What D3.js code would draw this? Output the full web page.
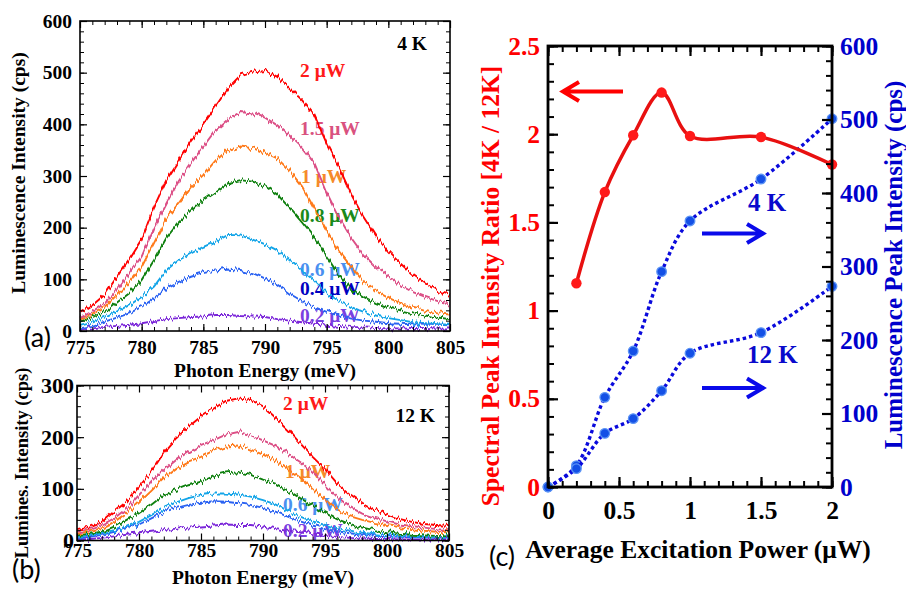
<!DOCTYPE html>
<html>
<head>
<meta charset="utf-8">
<script src="https://cdn.jsdelivr.net/npm/d3@7"></script>
<style>
  body { margin: 0; background: #fff; }
  svg { display: block; }
</style>
</head>
<body>
<svg id="chart" width="906" height="589"></svg>
<script>
// photon energy grid (meV), one reading per meV
var energy = [775,776,777,778,779,780,781,782,783,784,785,786,787,788,789,790,
              791,792,793,794,795,796,797,798,799,800,801,802,803,804,805];
var energyTicks = [775,780,785,790,795,800,805];

var powerLabels = ['2 μW','1.5 μW','1 μW','0.8 μW','0.6 μW','0.4 μW','0.2 μW'];

// (a) 4 K spectra, cps
var spec4K_2   = [35,50,70,105,140,178,240,292,330,368,400,435,470,495,502,505,492,470,447,418,363,317,264,220,183,154,130,109,92,77,70];
var spec4K_15  = [25,38,53,80,112,144,200,247,290,325,357,389,410,424,421,413,398,378,355,325,268,220,180,147,124,106,88,75,66,58,53];
var spec4K_1   = [22,32,47,70,95,124,170,218,247,279,302,330,350,357,354,345,334,310,280,237,195,154,124,95,77,64,54,47,41,36,34];
var spec4K_08  = [18,27,37,55,73,99,137,180,210,232,254,270,286,292,289,280,264,238,210,180,144,108,81,66,54,46,40,34,30,26,23];
var spec4K_06  = [12,18,28,38,50,66,86,118,137,150,163,173,186,185,177,168,156,137,117,97,73,58,46,37,30,25,21,17,15,13,12];
var spec4K_04  = [5,10,18,26,34,47,63,84,95,105,112,117,121,118,112,102,90,72,58,46,37,30,24,20,18,15,14,13,12,12,11];
var spec4K_02  = [3,5,8,10,12,15,19,23,25,27,28,31,31,29,28,27,23,20,17,14,12,10,8,7,6,5,5,4,4,3,3];
var cpsTicks4K = [0,100,200,300,400,500,600];

// (b) 12 K spectra, cps
var spec12K_2  = [22,27,36,56,75,104,133,170,198,220,240,255,270,275,272,260,238,215,188,162,138,110,90,73,60,50,42,36,32,30,28];
var spec12K_15 = [17,22,30,43,62,88,115,136,156,172,185,194,205,210,204,194,183,168,152,133,108,84,65,52,44,37,31,28,25,22,20];
var spec12K_1  = [13,18,24,36,53,75,98,122,140,153,162,174,182,184,176,166,155,138,122,101,79,60,47,40,34,30,26,22,19,17,16];
var spec12K_08 = [10,13,17,27,40,53,69,88,98,107,114,124,130,132,127,118,110,97,82,68,53,41,32,25,20,16,13,11,10,9,8];
var spec12K_06 = [7,10,14,20,27,36,49,63,74,82,88,91,91,89,85,78,70,58,46,37,30,24,19,15,12,10,9,8,7,6,6];
var spec12K_04 = [4,7,11,17,24,31,43,55,63,69,73,76,75,72,69,63,56,46,37,29,22,18,14,11,9,8,7,6,6,5,5];
var spec12K_02 = [2,3,5,8,11,14,17,20,23,25,27,29,31,30,30,27,22,19,16,12,9,7,5,4,3,3,2,2,2,2,2];
var cpsTicks12K = [0,100,200,300];

// (c) power dependence
var power      = [0.2,0.4,0.6,0.8,1,1.5,2];
var ratio      = [1.155,1.672,1.994,2.236,1.99,1.984,1.828];
var powerAll   = [0,0.2,0.4,0.6,0.8,1,1.5,2];
var peak4K     = [0,29,122,185,293,362,419,501];
var peak12K    = [0,25,73,93,131,182,210,273];
var powerTicks = [0,0.5,1,1.5,2];
var ratioTicks = [0,0.5,1,1.5,2,2.5];
var peakTicks  = [0,100,200,300,400,500,600];

var lineColors  = ['#ff0000','#dc4f86','#ff7a1a','#0f800f','#14a5e8','#2a62f2','#7b26d9'];
var labelColors = ['#ff1a1a','#d9527f','#f58a2a','#1a8a1a','#4a90f0','#0000c0','#7a40e0'];

var serif = '"Liberation Serif", "Times New Roman", serif';
var sans = 'Lato, "Open Sans", sans-serif';

var svg = d3.select('#chart');

// slight jitter so the traces read like measured spectra
var filt = svg.append('defs').append('filter')
    .attr('id', 'jitter')
    .attr('filterUnits', 'userSpaceOnUse')
    .attr('x', 0).attr('y', 0).attr('width', 906).attr('height', 589)
    .attr('color-interpolation-filters', 'sRGB');
filt.append('feTurbulence')
    .attr('type', 'fractalNoise')
    .attr('baseFrequency', '0.5 0.05')
    .attr('numOctaves', 1)
    .attr('seed', 7)
    .attr('result', 'noise');
filt.append('feColorMatrix')
    .attr('in', 'noise')
    .attr('type', 'matrix')
    .attr('values', '0 0 0 0 0.5  0 1 0 0 0  0 0 0 0 0  0 0 0 0 1')
    .attr('result', 'shift');
filt.append('feDisplacementMap')
    .attr('in', 'SourceGraphic')
    .attr('in2', 'shift')
    .attr('scale', 10)
    .attr('xChannelSelector', 'R')
    .attr('yChannelSelector', 'G');

function ticks(g, axisFn, scale, pos, values, len, fmt, pad, size, color, sw) {
  var ax = axisFn(scale)
      .tickValues(values)
      .tickSizeInner(-len)
      .tickSizeOuter(0)
      .tickPadding(pad)
      .tickFormat(fmt || '');
  var sel = g.append('g').attr('transform', pos).call(ax);
  sel.select('.domain').remove();
  sel.selectAll('line').attr('stroke', '#000').attr('stroke-width', sw);
  sel.selectAll('text')
      .attr('font-family', serif)
      .attr('font-weight', 'bold')
      .attr('font-size', size)
      .attr('fill', color);
  return sel;
}

function label(txt, x, y, size, color, anchor, font, weight) {
  return svg.append('text')
      .attr('x', x).attr('y', y)
      .attr('font-family', font || serif)
      .attr('font-weight', weight || 'bold')
      .attr('font-size', size)
      .attr('fill', color || '#000')
      .attr('text-anchor', anchor || 'start')
      .text(txt);
}

function vlabel(txt, x, y, size, color) {
  return svg.append('text')
      .attr('transform', 'translate(' + x + ',' + y + ') rotate(-90)')
      .attr('text-anchor', 'middle').attr('dominant-baseline', 'central')
      .attr('font-family', serif).attr('font-weight', 'bold').attr('font-size', size)
      .attr('fill', color || '#000')
      .text(txt);
}

function spectraPanel(p) {
  var x = d3.scaleLinear().domain([775, 805]).range([p.left, p.right]);
  var y = d3.scaleLinear().domain([0, p.ymax]).range([p.bottom, p.top]);
  var g = svg.append('g');

  // power labels sit under the traces
  p.labelPos.forEach(function(lp) {
    g.append('text')
        .attr('x', lp[1]).attr('y', lp[2])
        .attr('font-family', serif)
        .attr('font-weight', 'bold')
        .attr('font-size', 19.5)
        .attr('fill', labelColors[lp[0]])
        .text(powerLabels[lp[0]]);
  });

  var line = d3.line()
      .x(function(d, i) { return x(energy[i]); })
      .y(function(d) { return y(d); });

  g.append('g')
      .attr('filter', 'url(#jitter)')
      .selectAll('path')
      .data(p.series.slice().reverse())
      .enter()
      .append('path')
      .attr('d', function(d) { return line(d.v); })
      .attr('fill', 'none')
      .attr('stroke', function(d) { return d.c; })
      .attr('stroke-width', 1.9);

  var minorX = energy;
  var minorY = d3.range(0, p.ymax + 1, 20);
  ticks(g, d3.axisBottom, x, 'translate(0,' + p.bottom + ')', minorX, 4, null, 0, 0, '#000', 1);
  ticks(g, d3.axisBottom, x, 'translate(0,' + p.bottom + ')', energyTicks, 7, d3.format('d'), p.xPad, 19.5, '#000', 1.2);
  ticks(g, d3.axisTop, x, 'translate(0,' + p.top + ')', minorX, 4, null, 0, 0, '#000', 1);
  ticks(g, d3.axisTop, x, 'translate(0,' + p.top + ')', energyTicks, 7, null, 0, 0, '#000', 1.2);
  ticks(g, d3.axisLeft, y, 'translate(' + p.left + ',0)', minorY, 4, null, 0, 0, '#000', 1);
  ticks(g, d3.axisLeft, y, 'translate(' + p.left + ',0)', p.yTicks, 7, d3.format('d'), p.yPad, p.yFont, '#000', 1.2);
  ticks(g, d3.axisRight, y, 'translate(' + p.right + ',0)', minorY, 4, null, 0, 0, '#000', 1);
  ticks(g, d3.axisRight, y, 'translate(' + p.right + ',0)', p.yTicks, 7, null, 0, 0, '#000', 1.2);

  g.append('rect')
      .attr('x', p.left).attr('y', p.top)
      .attr('width', p.right - p.left).attr('height', p.bottom - p.top)
      .attr('fill', 'none').attr('stroke', '#000').attr('stroke-width', 1.6);
}

function seriesOf(arrs) {
  return arrs.map(function(v, i) { return { v: v, c: lineColors[i] }; });
}

// (a) 4 K
spectraPanel({
  left: 80, right: 450, top: 21, bottom: 331, ymax: 600,
  yTicks: cpsTicks4K, yFont: 19.5, yPad: 8, xPad: 9,
  series: seriesOf([spec4K_2, spec4K_15, spec4K_1, spec4K_08, spec4K_06, spec4K_04, spec4K_02]),
  labelPos: [[0, 300, 77], [1, 300, 135], [2, 301, 183], [3, 300, 222], [4, 300, 276], [5, 300, 295], [6, 300, 322]]
});
label('4 K', 427, 49.5, 19.5, '#000', 'end');
label('Photon Energy (meV)', 265, 377, 19.5, '#000', 'middle');
vlabel('Luminescence Intensity (cps)', 18.5, 173, 19.5);
label('(a)', 24, 347, 27, '#000', 'start', sans, 'normal');

// (b) 12 K
spectraPanel({
  left: 77, right: 449, top: 385.5, bottom: 540.5, ymax: 300,
  yTicks: cpsTicks12K, yFont: 22, yPad: 3, xPad: 3,
  series: seriesOf([spec12K_2, spec12K_15, spec12K_1, spec12K_08, spec12K_06, spec12K_04, spec12K_02]),
  labelPos: [[0, 283, 410], [2, 285, 478], [4, 283, 511], [6, 283, 537]]
});
label('12 K', 435, 421.5, 19.5, '#000', 'end');
label('Photon Energy (meV)', 263, 584, 19.5, '#000', 'middle');
vlabel('Lumines. Intensity (cps)', 22, 463, 18.5);
label('(b)', 12, 579, 27, '#000', 'start', sans, 'normal');

// (c) ratio and peak intensity vs power
var cL = 548, cR = 832, cT = 46, cB = 487;
var px = d3.scaleLinear().domain([0, 2]).range([cL, cR]);
var ry = d3.scaleLinear().domain([0, 2.5]).range([cB, cT]);
var by = d3.scaleLinear().domain([0, 600]).range([cB, cT]);
var gc = svg.append('g');

var blue = '#0a0adc';
var peakLine = d3.line()
    .x(function(d, i) { return px(powerAll[i]); })
    .y(function(d) { return by(d); })
    .curve(d3.curveCatmullRom);
[peak4K, peak12K].forEach(function(s) {
  gc.append('path')
      .attr('d', peakLine(s))
      .attr('fill', 'none')
      .attr('stroke', blue)
      .attr('stroke-width', 3.4)
      .attr('stroke-dasharray', '3.5,3');
  gc.selectAll(null).data(s).enter().append('circle')
      .attr('cx', function(d, i) { return px(powerAll[i]); })
      .attr('cy', function(d) { return by(d); })
      .attr('r', 4.8)
      .attr('fill', '#1450e6')
      .attr('stroke', '#5b93f5')
      .attr('stroke-width', 1.3);
});

var ratioLine = d3.line()
    .x(function(d, i) { return px(power[i]); })
    .y(function(d) { return ry(d); })
    .curve(d3.curveCatmullRom);
gc.append('path')
    .attr('d', ratioLine(ratio))
    .attr('fill', 'none')
    .attr('stroke', '#e81010')
    .attr('stroke-width', 3.5);
gc.selectAll(null).data(ratio).enter().append('circle')
    .attr('cx', function(d, i) { return px(power[i]); })
    .attr('cy', function(d) { return ry(d); })
    .attr('r', 5.2)
    .attr('fill', '#ff1a1a');

ticks(gc, d3.axisBottom, px, 'translate(0,' + cB + ')', d3.range(0, 2.01, 0.1), 6, null, 0, 0, '#000', 2);
ticks(gc, d3.axisBottom, px, 'translate(0,' + cB + ')', powerTicks, 10, function(d) { return d; }, 14, 25.5, '#000', 2.2);
ticks(gc, d3.axisTop, px, 'translate(0,' + cT + ')', d3.range(0, 2.01, 0.1), 6, null, 0, 0, '#000', 2);
ticks(gc, d3.axisTop, px, 'translate(0,' + cT + ')', powerTicks, 10, null, 0, 0, '#000', 2.2);
ticks(gc, d3.axisLeft, ry, 'translate(' + cL + ',0)', d3.range(0, 2.51, 0.1), 6, null, 0, 0, '#000', 2);
ticks(gc, d3.axisLeft, ry, 'translate(' + cL + ',0)', ratioTicks, 10, function(d) { return d; }, 8, 25.5, '#ff0000', 2.2);
ticks(gc, d3.axisRight, by, 'translate(' + cR + ',0)', d3.range(0, 601, 20), 6, null, 0, 0, '#000', 2);
ticks(gc, d3.axisRight, by, 'translate(' + cR + ',0)', peakTicks, 10, d3.format('d'), 8, 25.5, '#0000cc', 2.2);

gc.append('rect')
    .attr('x', cL).attr('y', cT)
    .attr('width', cR - cL).attr('height', cB - cT)
    .attr('fill', 'none').attr('stroke', '#000').attr('stroke-width', 2.8);

// arrows pointing to the relevant axis
function arrow(x1, x2, yy, color) {
  var dir = x2 > x1 ? -1 : 1;
  gc.append('path')
      .attr('d', 'M' + x1 + ',' + yy + 'L' + x2 + ',' + yy +
                 'M' + (x2 + dir * 16) + ',' + (yy - 9.5) + 'L' + x2 + ',' + yy +
                 'L' + (x2 + dir * 16) + ',' + (yy + 9.5))
      .attr('fill', 'none')
      .attr('stroke', color)
      .attr('stroke-width', 4)
      .attr('stroke-linejoin', 'miter');
}
arrow(623, 563, 91.5, '#ff0000');
arrow(702, 763, 233.5, '#0a0aea');
arrow(702, 763, 388, '#0a0aea');

label('4 K', 748, 211, 25, '#0a0acc', 'start');
label('12 K', 747, 363, 25, '#0a0acc', 'start');

vlabel('Spectral Peak Intensity Ratio [4K / 12K]', 490, 286, 25.5, '#ff0000');
vlabel('Luminescence Peak Intensity (cps)', 893, 265, 25, '#0000cc');
label('Average Excitation Power (μW)', 698, 558, 25.5, '#000', 'middle');
label('(c)', 489, 566, 27, '#000', 'start', sans, 'normal');
</script>
</body>
</html>
